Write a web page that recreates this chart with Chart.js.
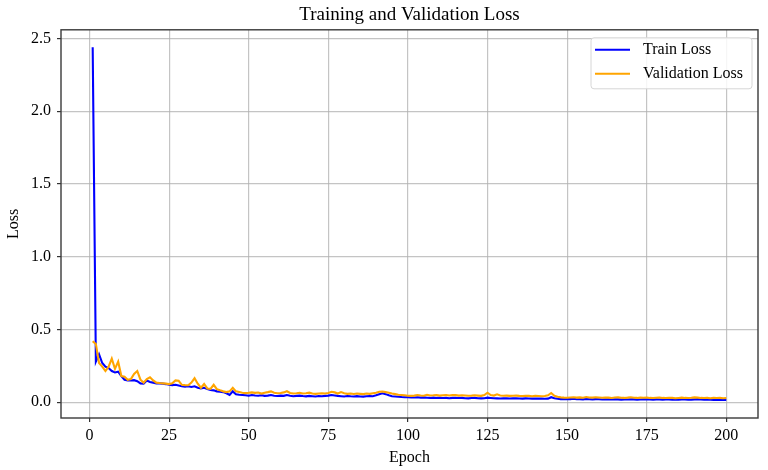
<!DOCTYPE html>
<html>
<head>
<meta charset="utf-8">
<script src="https://cdn.jsdelivr.net/npm/chart.js@4.4.1/dist/chart.umd.min.js"></script>
<style>
html, body { margin: 0; padding: 0; background: #fff; }
#chart { display: block; }
</style>
</head>
<body>
<canvas id="chart" width="768" height="470"></canvas>
<script>
const epochs = [
	1, 2, 3, 4, 5, 6, 7, 8, 9, 10, 11, 12, 13, 14, 15, 16, 17, 18, 19, 20,
	21, 22, 23, 24, 25, 26, 27, 28, 29, 30, 31, 32, 33, 34, 35, 36, 37, 38, 39, 40,
	41, 42, 43, 44, 45, 46, 47, 48, 49, 50, 51, 52, 53, 54, 55, 56, 57, 58, 59, 60,
	61, 62, 63, 64, 65, 66, 67, 68, 69, 70, 71, 72, 73, 74, 75, 76, 77, 78, 79, 80,
	81, 82, 83, 84, 85, 86, 87, 88, 89, 90, 91, 92, 93, 94, 95, 96, 97, 98, 99, 100,
	101, 102, 103, 104, 105, 106, 107, 108, 109, 110, 111, 112, 113, 114, 115, 116, 117, 118, 119, 120,
	121, 122, 123, 124, 125, 126, 127, 128, 129, 130, 131, 132, 133, 134, 135, 136, 137, 138, 139, 140,
	141, 142, 143, 144, 145, 146, 147, 148, 149, 150, 151, 152, 153, 154, 155, 156, 157, 158, 159, 160,
	161, 162, 163, 164, 165, 166, 167, 168, 169, 170, 171, 172, 173, 174, 175, 176, 177, 178, 179, 180,
	181, 182, 183, 184, 185, 186, 187, 188, 189, 190, 191, 192, 193, 194, 195, 196, 197, 198, 199, 200,
];

const trainLoss = [
	2.44, 0.28, 0.33, 0.27, 0.245, 0.235, 0.215, 0.205, 0.21, 0.18,
	0.155, 0.15, 0.15, 0.152, 0.145, 0.13, 0.128, 0.15, 0.14, 0.135,
	0.13, 0.13, 0.128, 0.125, 0.12, 0.118, 0.12, 0.115, 0.11, 0.108,
	0.11, 0.105, 0.11, 0.1, 0.096, 0.1, 0.092, 0.085, 0.082, 0.075,
	0.072, 0.07, 0.062, 0.05, 0.075, 0.055, 0.052, 0.05, 0.048, 0.045,
	0.05, 0.047, 0.045, 0.048, 0.044, 0.046, 0.05, 0.045, 0.043, 0.046,
	0.044, 0.05, 0.045, 0.042, 0.044, 0.046, 0.043, 0.041, 0.044, 0.042,
	0.04, 0.043, 0.042, 0.044, 0.046, 0.05, 0.047, 0.044, 0.042, 0.04,
	0.043, 0.041, 0.04, 0.042, 0.04, 0.039, 0.041, 0.043, 0.042, 0.048,
	0.055, 0.062, 0.056, 0.048, 0.042, 0.04, 0.038, 0.036, 0.035, 0.035,
	0.034, 0.033, 0.035, 0.032, 0.034, 0.031, 0.03, 0.032, 0.03, 0.031,
	0.029, 0.03, 0.028, 0.03, 0.031, 0.029, 0.03, 0.028, 0.027, 0.029,
	0.03, 0.028, 0.027, 0.028, 0.032, 0.03, 0.028, 0.027, 0.026, 0.028,
	0.027, 0.026, 0.028, 0.027, 0.026, 0.025, 0.027, 0.026, 0.025, 0.026,
	0.025, 0.026, 0.024, 0.025, 0.035, 0.028, 0.024, 0.022, 0.023, 0.022,
	0.022, 0.024, 0.021, 0.022, 0.02, 0.023, 0.021, 0.02, 0.022, 0.021,
	0.019, 0.021, 0.02, 0.019, 0.021, 0.02, 0.018, 0.02, 0.019, 0.021,
	0.02, 0.018, 0.019, 0.02, 0.021, 0.019, 0.018, 0.02, 0.019, 0.018,
	0.02, 0.019, 0.017, 0.019, 0.018, 0.02, 0.019, 0.017, 0.018, 0.02,
	0.022, 0.019, 0.018, 0.017, 0.018, 0.016, 0.017, 0.016, 0.017, 0.016,
];

const valLoss = [
	0.42, 0.4, 0.27, 0.245, 0.215, 0.245, 0.3, 0.23, 0.28, 0.18,
	0.175, 0.155, 0.16, 0.195, 0.215, 0.155, 0.135, 0.16, 0.172, 0.15,
	0.135, 0.132, 0.13, 0.128, 0.125, 0.13, 0.15, 0.148, 0.12, 0.118,
	0.117, 0.135, 0.165, 0.128, 0.1, 0.126, 0.095, 0.092, 0.12, 0.09,
	0.082, 0.075, 0.07, 0.075, 0.1, 0.075, 0.07, 0.065, 0.063, 0.065,
	0.068, 0.065, 0.067, 0.06, 0.066, 0.07, 0.075, 0.065, 0.062, 0.064,
	0.068, 0.076, 0.064, 0.06, 0.062, 0.065, 0.06, 0.062, 0.066, 0.06,
	0.058, 0.06, 0.062, 0.06, 0.064, 0.072, 0.068, 0.06, 0.07, 0.062,
	0.058, 0.06, 0.057, 0.06, 0.058, 0.056, 0.06, 0.058, 0.062, 0.066,
	0.072, 0.074, 0.07, 0.065, 0.06, 0.056, 0.052, 0.05, 0.048, 0.045,
	0.044, 0.046, 0.05, 0.047, 0.045, 0.052, 0.047, 0.048, 0.05, 0.046,
	0.048, 0.05, 0.047, 0.049, 0.05, 0.046, 0.048, 0.047, 0.045, 0.046,
	0.048, 0.046, 0.044, 0.05, 0.066, 0.05, 0.046, 0.055, 0.047, 0.045,
	0.046, 0.044, 0.045, 0.046, 0.044, 0.043, 0.045, 0.044, 0.042, 0.044,
	0.043, 0.041, 0.043, 0.048, 0.064, 0.045, 0.038, 0.034, 0.032, 0.031,
	0.033, 0.035, 0.032, 0.034, 0.031, 0.036, 0.033, 0.032, 0.035, 0.033,
	0.031, 0.033, 0.032, 0.03, 0.033, 0.034, 0.031, 0.03, 0.032, 0.035,
	0.031, 0.03, 0.032, 0.031, 0.033, 0.03, 0.029, 0.031, 0.033, 0.03,
	0.029, 0.031, 0.03, 0.028, 0.03, 0.032, 0.03, 0.029, 0.031, 0.034,
	0.032, 0.03, 0.029, 0.03, 0.028, 0.03, 0.029, 0.03, 0.028, 0.029,
];

const xTicks = [0, 25, 50, 75, 100, 125, 150, 175, 200];
const yTicks = [0, 0.5, 1, 1.5, 2, 2.5];

const SERIF = "'Liberation Serif', 'Times New Roman', serif";

// box around the plot area, like matplotlib spines
const framePlugin = {
	id: "frame",
	afterDatasetsDraw(chart) {
		const { ctx, chartArea: a } = chart;
		ctx.save();
		ctx.strokeStyle = "#3a3a3a";
		ctx.lineWidth = 1.4;
		ctx.strokeRect(a.left, a.top, a.right - a.left, a.bottom - a.top);
		ctx.restore();
	},
};

// legend drawn inside the plot, top right
const insideLegend = {
	id: "insideLegend",
	afterDraw(chart) {
		const { ctx, chartArea: a } = chart;
		const w = 161, h = 51;
		const x = a.right - 6 - w, y = a.top + 8;
		ctx.save();
		ctx.beginPath();
		ctx.roundRect(x, y, w, h, 3);
		ctx.fillStyle = "rgba(255,255,255,0.85)";
		ctx.fill();
		ctx.strokeStyle = "#d6d6d6";
		ctx.lineWidth = 1;
		ctx.stroke();
		ctx.font = "16px " + SERIF;
		ctx.textBaseline = "middle";
		chart.data.datasets.forEach((ds, i) => {
			const ly = y + 12 + i * 24;
			ctx.beginPath();
			ctx.moveTo(x + 4, ly);
			ctx.lineTo(x + 39, ly);
			ctx.strokeStyle = ds.borderColor;
			ctx.lineWidth = 2;
			ctx.stroke();
			ctx.fillStyle = "#000";
			ctx.fillText(ds.label, x + 52, ly);
		});
		ctx.restore();
	},
};

const gridStyle = {
	color: "rgba(176,176,176,0.75)",
	lineWidth: 1.2,
	tickLength: 4,
	tickColor: "#333",
};

new Chart(document.getElementById("chart").getContext("2d"), {
	type: "line",
	data: {
		labels: epochs,
		datasets: [
			{
				label: "Train Loss",
				data: trainLoss,
				borderColor: "#0000ff",
				borderWidth: 2.1,
				order: 1,
			},
			{
				label: "Validation Loss",
				data: valLoss,
				borderColor: "#ffa500",
				borderWidth: 2.1,
				order: 0,
			},
		],
	},
	options: {
		responsive: false,
		animation: false,
		devicePixelRatio: 1,
		layout: { padding: { left: 0, right: 10, top: 0, bottom: 0 } },
		elements: { point: { radius: 0 }, line: { tension: 0 } },
		plugins: {
			legend: { display: false },
			tooltip: { enabled: false },
			title: {
				display: true,
				text: "Training and Validation Loss",
				fullSize: false,
				color: "#000",
				font: { family: SERIF, size: 19, weight: "normal" },
				padding: { top: 4, bottom: 3 },
			},
		},
		scales: {
			x: {
				type: "linear",
				min: -8.95,
				max: 209.95,
				afterBuildTicks: (s) => {
					s.ticks = xTicks.map((v) => ({ value: v }));
				},
				afterFit: (s) => {
					s.height = 52;
				},
				grid: gridStyle,
				border: { display: false },
				ticks: {
					color: "#000",
					font: { family: SERIF, size: 16 },
					padding: 4,
					maxRotation: 0,
					autoSkip: false,
				},
				title: {
					display: true,
					text: "Epoch",
					color: "#000",
					font: { family: SERIF, size: 16 },
					padding: { top: 2, bottom: 3 },
				},
			},
			y: {
				type: "linear",
				min: -0.108,
				max: 2.56,
				afterBuildTicks: (s) => {
					s.ticks = yTicks.map((v) => ({ value: v }));
				},
				afterFit: (s) => {
					s.width = 61;
				},
				grid: gridStyle,
				border: { display: false },
				ticks: {
					color: "#000",
					font: { family: SERIF, size: 16 },
					padding: 6,
					callback: (v) => v.toFixed(1),
				},
				title: {
					display: true,
					text: "Loss",
					color: "#000",
					font: { family: SERIF, size: 16 },
					padding: { top: 4, bottom: 2 },
				},
			},
		},
	},
	plugins: [framePlugin, insideLegend],
});
</script>
</body>
</html>
